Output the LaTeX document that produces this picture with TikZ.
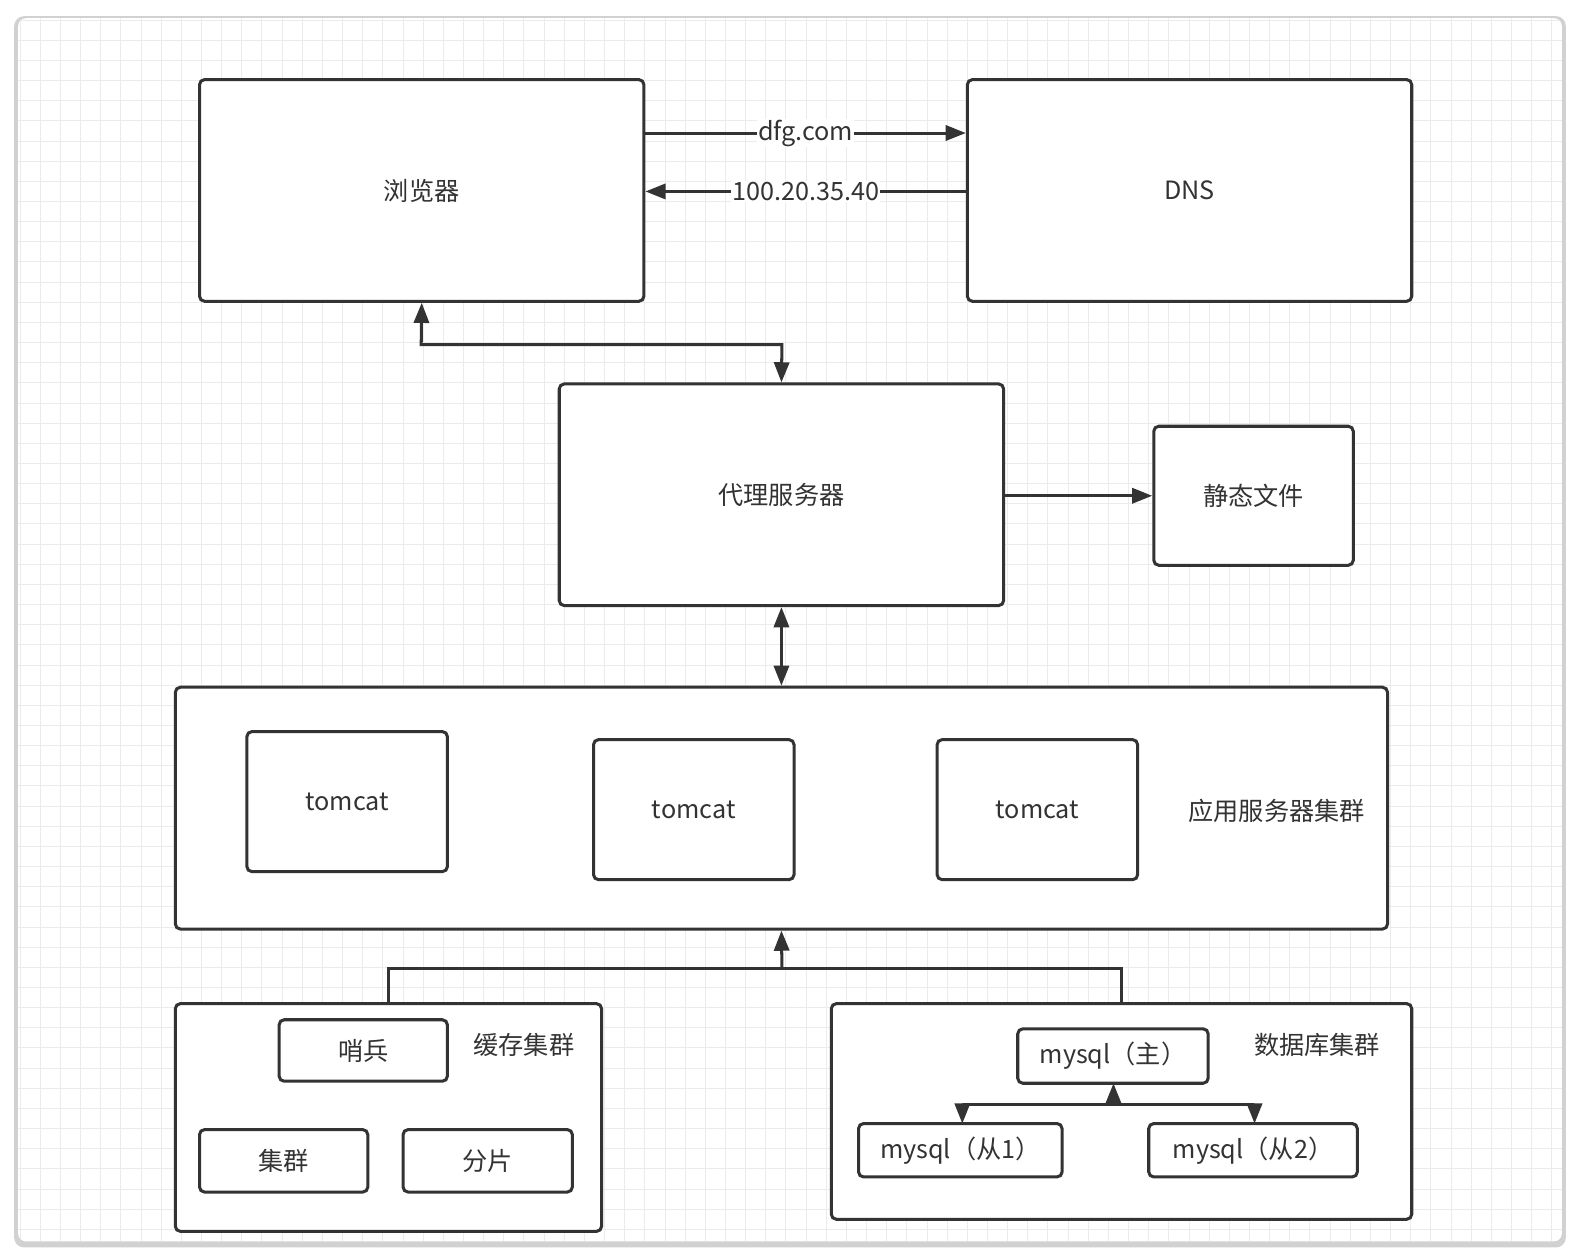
\documentclass[tikz,border=0pt]{standalone}
\usepackage{fontspec}
\setmainfont{Noto Sans CJK SC}
\usetikzlibrary{arrows.meta}
\definecolor{ink}{HTML}{333333}
\tikzset{
 box/.style={draw=ink,line width=3pt,rounded corners=5pt,fill=white,inner sep=0pt},
 lbl/.style={text=ink,font=\fontsize{25}{29}\selectfont},
 conn/.style={draw=ink,line width=3pt},
 tip/.style={-{Triangle[length=20pt,width=15pt]}},
 tips/.style={{Triangle[length=20pt,width=15pt]}-{Triangle[length=20pt,width=15pt]}},
}
\newcommand{\bx}[6]{\node[box,lbl,minimum width=#4-#2,minimum height=#5-#3] (#1) at ({(#2+#4)/2},{(#3+#5)/2}) {#6};}
\begin{document}
\begin{tikzpicture}[x=1pt,y=-1pt]
\useasboundingbox (0,0) rectangle (1568,1250);
\fill[black!18,rounded corners=10pt] (14,16) rectangle (1554,1238);
\fill[white,rounded corners=8pt] (18,18) rectangle (1550,1232);
\begin{scope}
\clip[rounded corners=8pt] (18,18) rectangle (1550,1232);
\foreach \x in {20,40,...,1560} \draw[black!8,line width=1pt] (\x,18)--(\x,1232);
\foreach \y in {20,40,...,1240} \draw[black!8,line width=1pt] (18,\y)--(1550,\y);
\end{scope}
\bx{br}{198}{79}{639}{299}{浏览器}
\bx{dns}{960}{79}{1401}{299}{DNS}
\bx{px}{555}{381}{996}{601}{代理服务器}
\bx{st}{1145}{423}{1343}{561}{静态文件}
\bx{app}{174}{682}{1377}{922}{}
\bx{t1}{245}{726}{444}{865}{tomcat}
\bx{t2}{589}{734}{788}{873}{tomcat}
\bx{t3}{930}{734}{1129}{873}{tomcat}
\node[lbl] (appl) at (1267,805) {应用服务器集群};
\bx{cache}{174}{996}{597}{1222}{}
\bx{sb}{277}{1012}{444}{1073}{哨兵}
\bx{jq}{198}{1121}{365}{1183}{集群}
\bx{fp}{400}{1121}{568}{1183}{分片}
\node[lbl] (cachel) at (520,1037) {缓存集群};
\bx{db}{825}{996}{1401}{1210}{}
\bx{m0}{1010}{1021}{1199}{1075}{mysql（主）}
\bx{m1}{852}{1115}{1054}{1168}{mysql（从1）}
\bx{m2}{1140}{1115}{1347}{1168}{mysql（从2）}
\node[lbl] (dbl) at (1307,1037) {数据库集群};
\coordinate (j1) at (776,961);
\coordinate (jd) at (1105,1096);
\draw[conn,tip] (br.east|-0,132) -- node[fill=white,lbl,inner sep=1pt]{dfg.com} (dns.west|-0,132);
\draw[conn,tip] (dns.west|-0,190) -- node[fill=white,lbl,inner sep=1pt]{100.20.35.40} (br.east|-0,190);
\draw[conn,tips] (br.south) -- (418,342) -- (776,342) -- (px.north);
\draw[conn,tip] (px.east|-0,492) -- (st.west|-0,492);
\draw[conn,tips] (px.south) -- (app.north);
\draw[conn] (386,996) -- (386,961) -- (1113,961) -- (1113,996);
\draw[conn,tip] (j1) -- (app.south);
\draw[conn,tip] (jd) -- (1105,1075);
\draw[conn,tip] (jd) -- (955,1096) -- (955,1115);
\draw[conn,tip] (jd) -- (1245,1096) -- (1245,1115);
\end{tikzpicture}
\end{document}
